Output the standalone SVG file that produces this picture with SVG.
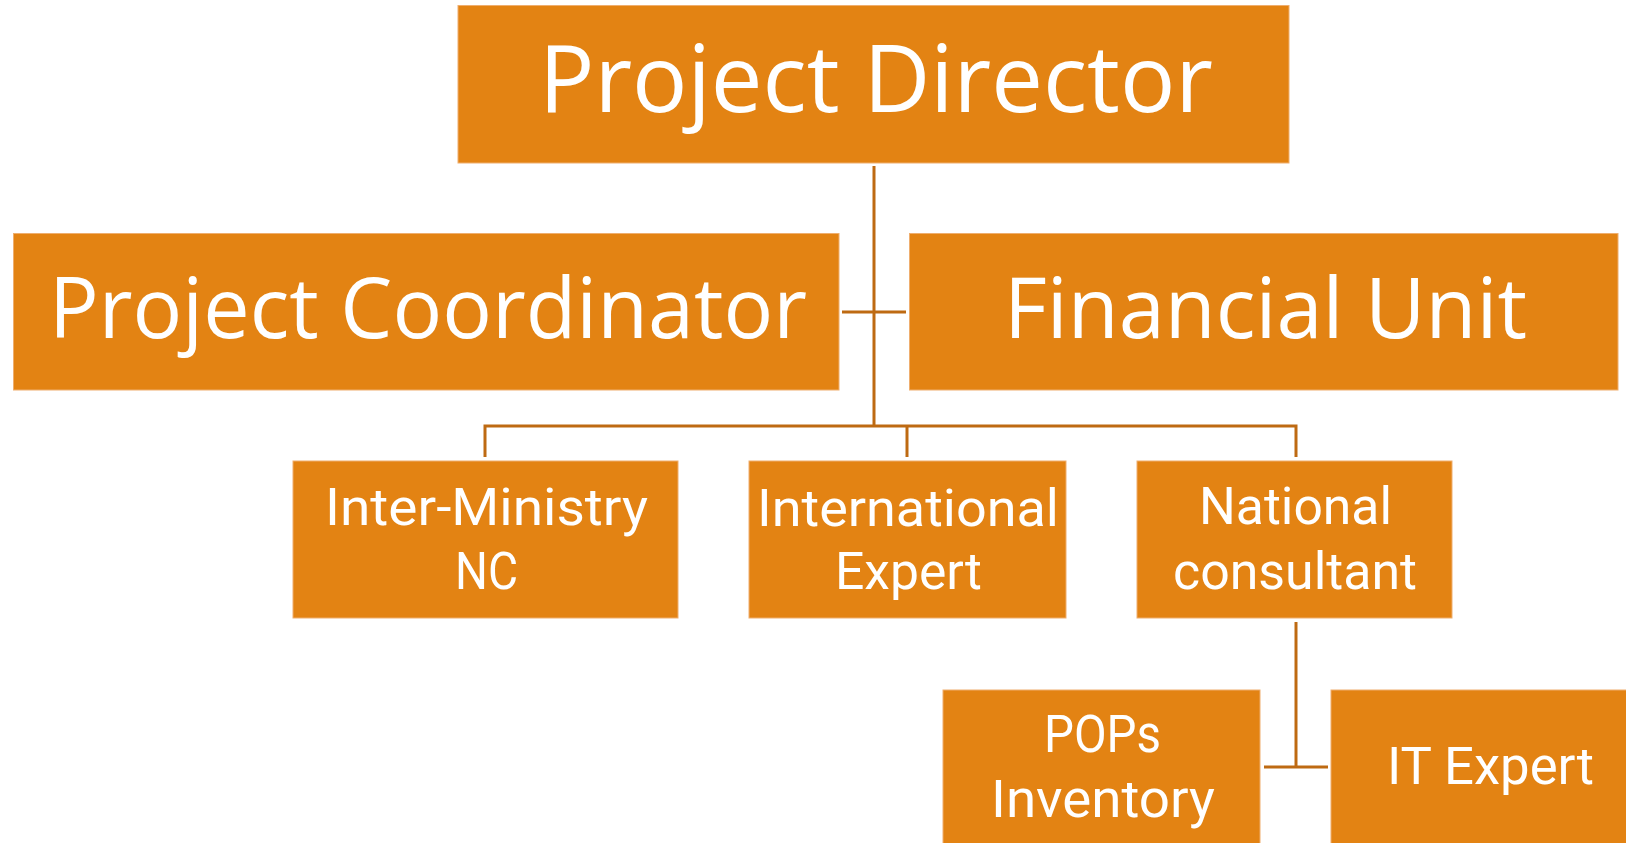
<svg xmlns="http://www.w3.org/2000/svg" width="1626" height="843" viewBox="0 0 1626 843">
<style>
.box{fill:#E38313;stroke:#EFAE6E;stroke-width:1}
.t{fill:#FFFFFF;font-family:"Open Sans","Noto Sans",sans-serif;text-anchor:middle}
.s{fill:#FFFFFF;font-family:Roboto,"Open Sans",sans-serif;text-anchor:middle;font-variant-ligatures:none}
.c{fill:none;stroke:#BE6A12;stroke-width:3}
</style>
<rect width="1626" height="843" fill="#FFFFFF"/>
<g id="connectors">
<path class="c" d="M874,166 V426"/>
<path class="c" d="M842,312 H906"/>
<path class="c" d="M485,457 V426 H1296 V457"/>
<path class="c" d="M907,426 V457"/>
<path class="c" d="M1296,622 V767"/>
<path class="c" d="M1264,767 H1328"/>
</g>
<g id="project-director">
<rect class="box" x="458" y="5.5" width="831" height="157.5"/>
<text class="t" x="876" y="112" font-size="94" textLength="674" lengthAdjust="spacingAndGlyphs">Project Director</text>
</g>
<g id="project-coordinator">
<rect class="box" x="13.5" y="233.5" width="825.5" height="156.5"/>
<text class="t" x="428" y="338" font-size="84" textLength="758" lengthAdjust="spacingAndGlyphs">Project Coordinator</text>
</g>
<g id="financial-unit">
<rect class="box" x="909.5" y="233.5" width="708.5" height="156.5"/>
<text class="t" x="1265.5" y="338" font-size="84" textLength="523" lengthAdjust="spacingAndGlyphs">Financial Unit</text>
</g>
<g id="inter-ministry">
<rect class="box" x="293" y="461" width="385" height="157"/>
<text class="s" x="486.5" y="525" font-size="52" textLength="323" lengthAdjust="spacingAndGlyphs">Inter-Ministry</text>
<text class="s" x="486.5" y="589" font-size="52" textLength="63" lengthAdjust="spacingAndGlyphs">NC</text>
</g>
<g id="international-expert">
<rect class="box" x="749" y="461" width="317" height="157"/>
<text class="s" x="908" y="526" font-size="52" textLength="302" lengthAdjust="spacingAndGlyphs">International</text>
<text class="s" x="908.5" y="589" font-size="52" textLength="147" lengthAdjust="spacingAndGlyphs">Expert</text>
</g>
<g id="national-consultant">
<rect class="box" x="1137" y="461" width="315" height="157"/>
<text class="s" x="1295.5" y="524" font-size="52" textLength="193" lengthAdjust="spacingAndGlyphs">National</text>
<text class="s" x="1295" y="589" font-size="52" textLength="244" lengthAdjust="spacingAndGlyphs">consultant</text>
</g>
<g id="pops-inventory">
<rect class="box" x="943" y="690" width="317" height="160"/>
<text class="s" x="1102.5" y="752" font-size="51" textLength="117" lengthAdjust="spacingAndGlyphs">POPs</text>
<text class="s" x="1103" y="817" font-size="51" textLength="224" lengthAdjust="spacingAndGlyphs">Inventory</text>
</g>
<g id="it-expert">
<rect class="box" x="1331" y="690" width="300" height="160"/>
<text class="s" x="1490.5" y="784" font-size="51" textLength="207" lengthAdjust="spacingAndGlyphs">IT Expert</text>
</g>
</svg>
